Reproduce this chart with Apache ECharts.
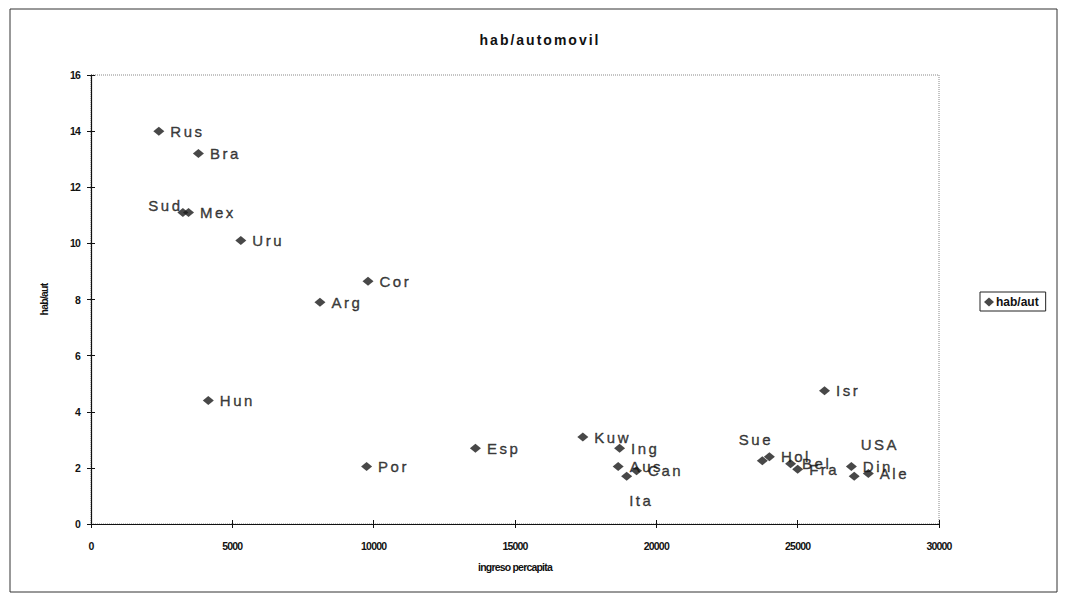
<!DOCTYPE html>
<html>
<head>
<meta charset="utf-8">
<script src="https://cdn.jsdelivr.net/npm/echarts@6/dist/echarts.min.js"></script>
<style>
  html, body { margin: 0; padding: 0; background: #fff; }
  #chart { width: 1066px; height: 598px; }
  /* spaced-out lettering for point labels and title, tight lettering for axis text */
  #chart text[style*="15px"] { letter-spacing: 2.5px; }
  #chart text[style*="14px"] { letter-spacing: 2px; }
  #chart text[style*="10.5px"] { letter-spacing: -0.8px; }
</style>
</head>
<body>
<div id="chart"></div>
<script>
// Inhabitants per car vs. income per capita, by country
const countries = ['Rus', 'Bra', 'Sud', 'Mex', 'Uru', 'Cor', 'Arg', 'Hun', 'Por', 'Esp',
                   'Kuw', 'Ing', 'Aus', 'Ita', 'Can', 'Isr', 'Sue', 'Hol', 'Bel', 'Fra',
                   'Din', 'USA', 'Ale'];
const income = [2400, 3800, 3250, 3450, 5300, 9800, 8100, 4150, 9750, 13600,
                17400, 18700, 18650, 18950, 19300, 25950, 23750, 24000, 24750, 25000,
                26900, 27000, 27500];
const habPerCar = [14.0, 13.2, 11.1, 11.1, 10.1, 8.65, 7.9, 4.4, 2.05, 2.7,
                   3.1, 2.7, 2.05, 1.7, 1.9, 4.75, 2.25, 2.4, 2.15, 1.95,
                   2.05, 1.7, 1.8];
const xTicks = { min: 0, max: 30000, step: 5000 };
const yTicks = { min: 0, max: 16, step: 2 };

// labels moved away from the default right-hand position (dx, dy in px)
const labelShift = {
  Sud: [-46, -7],
  Sue: [-35, -21],
  USA: [-5, -32],
  Ita: [-9, 24]
};

const points = countries.map((c, i) => ({ name: c, value: [income[i], habPerCar[i]] }));

const ink = '#111';
const tickFont = { color: ink, fontSize: 10.5, fontWeight: 'bold', fontFamily: '"Liberation Sans", Arial, sans-serif' };

const chart = echarts.init(document.getElementById('chart'), null, { renderer: 'svg' });
chart.setOption({
  animation: false,
  backgroundColor: '#fff',
  title: {
    text: 'hab/automovil',
    left: 535, top: 28, textAlign: 'center',
    textStyle: { color: ink, fontSize: 14, fontWeight: 'bold', fontFamily: '"Liberation Sans", Arial, sans-serif' }
  },
  graphic: [{
    type: 'rect', shape: { x: 10, y: 9, width: 1047, height: 583 }, silent: true,
    style: { fill: 'none', stroke: '#333', lineWidth: 1 }, z: -10
  }],
  legend: {
    data: ['hab/aut'], orient: 'vertical',
    left: 980, top: 292,
    itemWidth: 10, itemHeight: 9, itemGap: 0,
    padding: [4, 7, 3, 4],
    borderColor: '#222', borderWidth: 1,
    textStyle: { color: ink, fontSize: 12, fontWeight: 'bold', fontFamily: '"Liberation Sans", Arial, sans-serif', padding: [0, 0, 0, -3] }
  },
  grid: {
    left: 91, top: 75, right: 127, bottom: 74,
    show: true, borderColor: '#888', borderWidth: 1, borderType: 'dotted'
  },
  xAxis: [{
    type: 'value', min: xTicks.min, max: xTicks.max, interval: xTicks.step,
    name: 'ingreso percapita', nameLocation: 'middle', nameGap: 37,
    nameTextStyle: tickFont,
    axisLine: { show: true, lineStyle: { color: ink, width: 1.2 } },
    axisTick: { show: true, length: 4, lineStyle: { color: ink } },
    axisLabel: Object.assign({ margin: 16, formatter: v => String(v) }, tickFont),
    splitLine: { show: false }
  }, {
    type: 'value', min: xTicks.min, max: xTicks.max, interval: xTicks.step, position: 'bottom',
    axisLine: { show: false },
    axisTick: { show: true, inside: true, length: 4, lineStyle: { color: ink } },
    axisLabel: { show: false }, splitLine: { show: false }
  }],
  yAxis: [{
    type: 'value', min: yTicks.min, max: yTicks.max, interval: yTicks.step,
    name: 'hab/aut', nameLocation: 'middle', nameGap: 42, nameRotate: 90,
    nameTextStyle: tickFont,
    axisLine: { show: true, lineStyle: { color: ink, width: 1.2 } },
    axisTick: { show: true, length: 4, lineStyle: { color: ink } },
    axisLabel: Object.assign({ margin: 11, formatter: v => String(v) }, tickFont),
    splitLine: { show: false }
  }, {
    type: 'value', min: yTicks.min, max: yTicks.max, interval: yTicks.step, position: 'left',
    axisLine: { show: false },
    axisTick: { show: true, inside: true, length: 4, lineStyle: { color: ink } },
    axisLabel: { show: false }, splitLine: { show: false }
  }],
  series: [{
    name: 'hab/aut',
    type: 'scatter',
    symbol: 'diamond',
    symbolSize: [11, 9],
    itemStyle: { color: '#1a1a1a' },
    data: points,
    label: {
      show: true, position: 'right', distance: 6,
      formatter: p => p.name,
      color: ink, fontSize: 15,
      textBorderColor: ink, textBorderWidth: 0.4,
      fontFamily: '"Liberation Sans", Arial, sans-serif'
    },
    labelLayout: function (params) {
      const shift = labelShift[countries[params.dataIndex]];
      return shift ? { dx: shift[0], dy: shift[1], hideOverlap: false } : { hideOverlap: false };
    }
  }]
});
</script>
</body>
</html>
